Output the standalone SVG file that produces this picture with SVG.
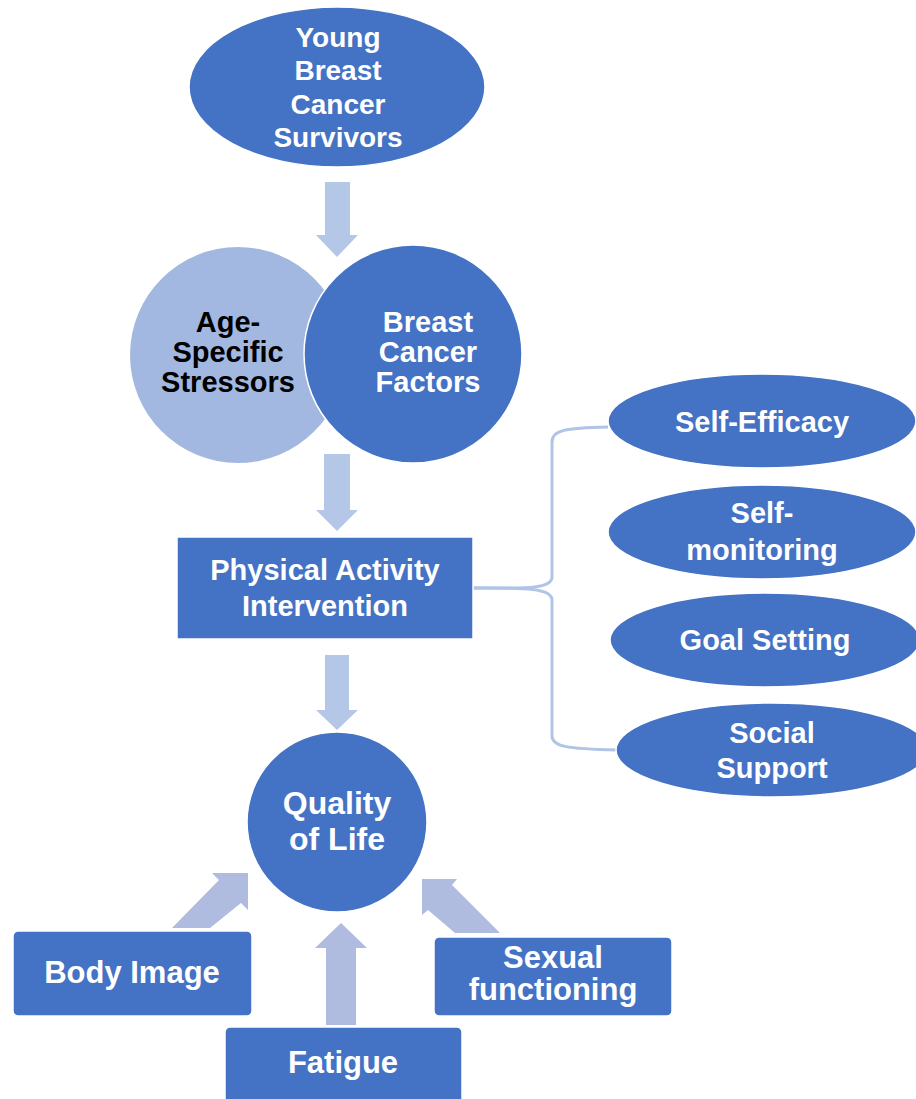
<svg xmlns="http://www.w3.org/2000/svg" width="916" height="1099" viewBox="0 0 916 1099">
<style>
.n{fill:#4472C4;stroke:#ffffff;stroke-width:1.5}
.t{font-family:"Liberation Sans",Arial,sans-serif;font-weight:bold;fill:#ffffff;text-anchor:middle}
.dk{fill:#000000}
.a1{fill:#B4C7E7}
.a2{fill:#B0BCDF}
.br{fill:none;stroke:#B0C4E6;stroke-width:3}
</style>
<rect width="916" height="1099" fill="#ffffff"/>
<g id="connectors">
<polygon class="a1" points="325,182 350,182 350,235 358,235 337,257 316,235 325,235"/>
<polygon class="a1" points="324,454 350,454 350,510 358,510 337,531 316,510 324,510"/>
<polygon class="a1" points="325,655 349,655 349,710 358,710 337,730 316,710 325,710"/>
<polygon class="a2" points="172,928 210,928 241,903 248,910 248,873 212,873 219,880"/>
<polygon class="a2" points="326,1025 356,1025 356,948 367,948 341,923 315,948 326,948"/>
<polygon class="a2" points="422,879 457,879 452,885 500,933 455,933 428,910 422,915"/>
<path class="br" d="M473,588 C520,588 552,590 552,577 L552,442 C552,430 565,428 608,427"/>
<path class="br" d="M473,588 C520,588 552,587 552,600 L552,736 C552,746 565,749 617,750"/>
</g>
<g id="young-survivors">
<ellipse class="n" cx="337" cy="87" rx="148" ry="80"/>
<text class="t" font-size="28"><tspan x="338" y="47">Young</tspan><tspan x="338" y="80">Breast</tspan><tspan x="338" y="114">Cancer</tspan><tspan x="338" y="147">Survivors</tspan></text>
</g>
<g id="age-specific">
<circle cx="238" cy="355" r="108" fill="#A2B8E0"/>
<text class="t dk" font-size="29"><tspan x="228" y="332">Age-</tspan><tspan x="228" y="362">Specific</tspan><tspan x="228" y="392">Stressors</tspan></text>
</g>
<g id="breast-cancer-factors">
<circle class="n" cx="413" cy="354" r="109" stroke-width="2"/>
<text class="t" font-size="29"><tspan x="428" y="332">Breast</tspan><tspan x="428" y="362">Cancer</tspan><tspan x="428" y="392">Factors</tspan></text>
</g>
<g id="pa-intervention">
<rect class="n" x="177" y="537" width="296" height="102"/>
<text class="t" font-size="29"><tspan x="325" y="580">Physical Activity</tspan><tspan x="325" y="616">Intervention</tspan></text>
</g>
<g id="self-efficacy">
<ellipse class="n" cx="762" cy="421" rx="154" ry="47"/>
<text class="t" x="762" y="432" font-size="29">Self-Efficacy</text>
</g>
<g id="self-monitoring">
<ellipse class="n" cx="762" cy="532" rx="154" ry="47"/>
<text class="t" font-size="29"><tspan x="762" y="523">Self-</tspan><tspan x="762" y="560">monitoring</tspan></text>
</g>
<g id="goal-setting">
<ellipse class="n" cx="765" cy="640" rx="155" ry="47"/>
<text class="t" x="765" y="650" font-size="29">Goal Setting</text>
</g>
<g id="social-support">
<ellipse class="n" cx="772" cy="750" rx="156" ry="47"/>
<text class="t" font-size="29"><tspan x="772" y="743">Social</tspan><tspan x="772" y="778">Support</tspan></text>
</g>
<g id="quality-of-life">
<circle class="n" cx="337" cy="822" r="90"/>
<text class="t" font-size="32"><tspan x="337" y="814">Quality</tspan><tspan x="337" y="850">of Life</tspan></text>
</g>
<g id="body-image">
<rect class="n" x="13" y="931" width="239" height="85" rx="5"/>
<text class="t" x="132" y="983" font-size="31">Body Image</text>
</g>
<g id="fatigue">
<rect class="n" x="225" y="1027" width="237" height="90" rx="5"/>
<text class="t" x="343" y="1073" font-size="31">Fatigue</text>
</g>
<g id="sexual-functioning">
<rect class="n" x="434" y="937" width="238" height="79" rx="5"/>
<text class="t" font-size="31"><tspan x="553" y="968">Sexual</tspan><tspan x="553" y="1000">functioning</tspan></text>
</g>
</svg>
